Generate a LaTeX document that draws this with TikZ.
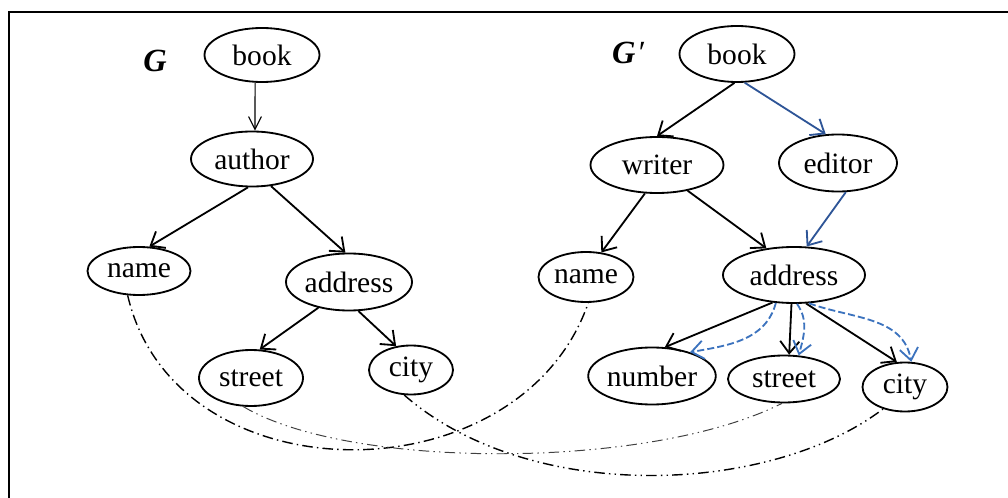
\documentclass[tikz,border=0pt]{standalone}
\usepackage{fontspec}
\setmainfont{Liberation Serif}
\usetikzlibrary{arrows.meta, shapes.geometric}
\definecolor{edgeblue}{HTML}{2E5597}
\definecolor{dashblue}{HTML}{3C73BE}

\begin{document}
\begin{tikzpicture}[x=0.025cm,y=-0.025cm,
  el/.style 2 args={ellipse,draw,line width=1.3pt,inner sep=0pt,
    minimum width=#1*0.025cm,minimum height=#2*0.025cm,font=\fontsize{21}{25}\selectfont},
  lbl/.style={font=\fontsize{23}{27}\selectfont\bfseries\itshape},
  ar/.style={line width=1.3pt,-{Straight Barb[length=3mm,width=4.8mm]}},
  bluear/.style={ar,edgeblue},
  dashar/.style={line width=1.3pt,dashblue,dash pattern=on 5pt off 2.2pt,
    -{Straight Barb[length=3mm,width=4.6mm]}},
  dd/.style={line width=1pt,dash pattern=on 7.5pt off 3pt on 1pt off 3pt},
  ddd/.style={line width=1pt,dash pattern=on 7.5pt off 3pt on 1pt off 3pt on 1pt off 3pt}]
\useasboundingbox (0,0) rectangle (1008,498);
\draw[line width=2pt] (9,498) -- (9,12) -- (1008,12);

\node[lbl] (g) at (155,61) {G};
\node[el={115}{54}] (lbook) at (262,55) {book};
\node[el={122}{55}] (lauthor) at (252,159) {author};
\node[el={103}{48}] (lname) at (139,271) {name};
\node[el={126}{57}] (laddr) at (349,282) {address};
\node[el={104}{56}] (lstreet) at (251,378) {street};
\node[el={84}{49}] (lcity) at (411,370) {city};

\node[lbl] (g2) at (628,53) {G\kern1pt\mdseries′};
\node[el={115}{56}] (rbook) at (737,54) {book};
\node[el={133}{56}] (rwriter) at (657,165) {writer};
\node[el={118}{57}] (reditor) at (838,163) {editor};
\node[el={95}{50}] (rname) at (586,277) {name};
\node[el={142}{56}] (raddr) at (794,275) {address};
\node[el={122}{57}] (rnumber) at (652,376) {number};
\node[el={112}{47}] (rstreet) at (784,379) {street};
\node[el={85}{49}] (rcity) at (905,387) {city};

\draw[line width=0.8pt,-{Straight Barb[length=3.2mm,width=3.2mm]}] (lbook.-104) -- (lauthor.84);
\draw[ar] (lauthor.-98) -- (lname.67);
\draw[ar] (lauthor.-55) -- (laddr.97);
\draw[ar] (laddr.-140) -- (lstreet.73);
\draw[ar] (laddr.-72) -- (lcity.122);

\draw[ar] (rbook.-95) -- (rwriter.north);
\draw[bluear] (rbook.-75) -- (reditor.113);
\draw[ar] (rwriter.-113) -- (rname.58);
\draw[ar] (rwriter.-40) -- (raddr.136);
\draw[bluear] (reditor.-75) -- (raddr.66);
\draw[ar] (raddr.-128) -- (rnumber.66);
\draw[ar] (raddr.-95) -- (rstreet.78);
\draw[ar] (raddr.-67) -- (rcity.108);

\draw[dashar] (raddr.-123) to[out=-105,in=10] (rnumber.32);
\draw[dashar] (raddr.-84) to[out=-55,in=75] (rstreet.58);
\draw[dashar] (raddr.-62) to[out=-20,in=100] (rcity.76);

\draw[dd] (lname.-115) .. controls (175,500) and (520,500) .. (rname.-85);
\draw[ddd,line width=0.7pt,black!75] (lstreet.-105) .. controls (350,470) and (650,470) .. (rstreet.-95);
\draw[ddd] (lcity.-105) .. controls (530,505) and (770,495) .. (rcity.-135);
\end{tikzpicture}
\end{document}
